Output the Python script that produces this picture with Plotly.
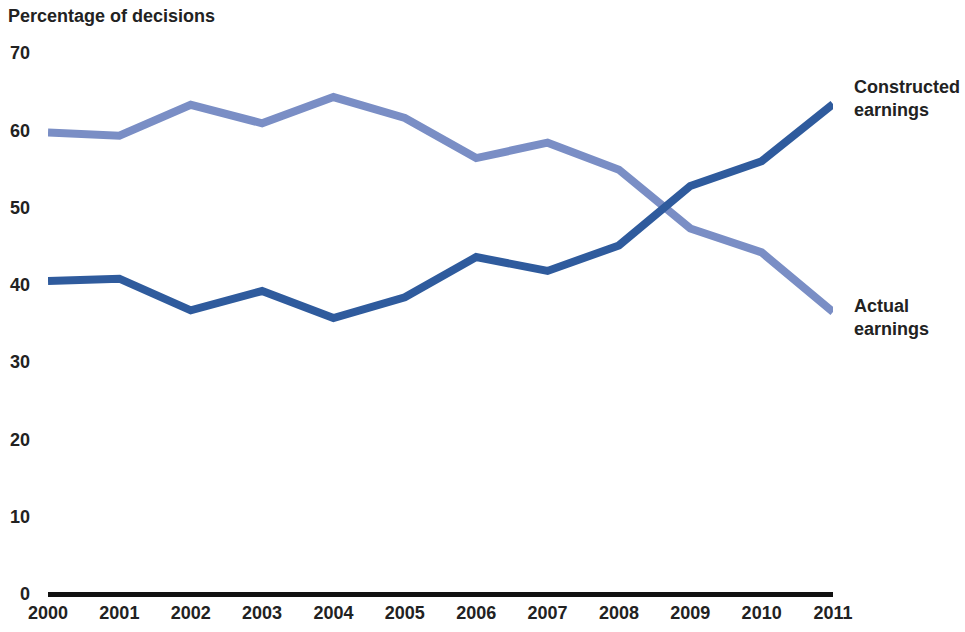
import plotly.graph_objects as go

years = [2000, 2001, 2002, 2003, 2004, 2005, 2006, 2007, 2008, 2009, 2010, 2011]
actual = [59.7, 59.3, 63.3, 60.9, 64.3, 61.6, 56.4, 58.4, 54.9, 47.3, 44.2, 36.5]
constructed = [40.5, 40.8, 36.7, 39.2, 35.7, 38.4, 43.6, 41.8, 45.1, 52.8, 56.0, 63.4]
y_ticks = [0, 10, 20, 30, 40, 50, 60, 70]

FONT = "Liberation Sans, Arial, sans-serif"
TXT = "#222222"
fig = go.Figure()
fig.add_trace(go.Scatter(x=years, y=actual, mode="lines", name="Actual earnings",
                         line=dict(color="#7a8ec5", width=8), cliponaxis=False))
fig.add_trace(go.Scatter(x=years, y=constructed, mode="lines", name="Constructed earnings",
                         line=dict(color="#2f5b9d", width=8), cliponaxis=False))

fig.update_layout(
    width=965, height=632,
    margin=dict(l=48, r=132, t=53, b=38, autoexpand=False),
    paper_bgcolor="white", plot_bgcolor="white",
    showlegend=False,
    font=dict(family=FONT, size=18, color=TXT),
    xaxis=dict(range=[2000, 2011], tickvals=years, ticktext=[str(y) for y in years],
               showgrid=False, zeroline=False, showline=False, automargin=False,
               tickfont=dict(family=FONT, size=18, color=TXT, weight="bold"),
               ticklabelstandoff=6),
    yaxis=dict(range=[0, 70], tickvals=y_ticks, showgrid=False, zeroline=True,
               zerolinecolor="#111111", zerolinewidth=5, showline=False, automargin=False,
               tickfont=dict(family=FONT, size=18, color=TXT, weight="bold"),
               ticklabelstandoff=17),
    annotations=[
        dict(text="<b>Percentage of decisions</b>", xref="paper", yref="paper",
             x=-42/785, y=1 + 37/541, xanchor="left", yanchor="middle",
             showarrow=False, font=dict(family=FONT, size=18, color=TXT)),
        dict(text="<b>Constructed<br>earnings</b>", xref="paper", yref="y",
             x=1 + 19/785, y=constructed[-1] + 0.7, xanchor="left", yanchor="middle",
             align="left", showarrow=False, font=dict(family=FONT, size=18, color=TXT)),
        dict(text="<b>Actual<br>earnings</b>", xref="paper", yref="y",
             x=1 + 19/785, y=actual[-1] - 0.7, xanchor="left", yanchor="middle",
             align="left", showarrow=False, font=dict(family=FONT, size=18, color=TXT)),
    ],
)
fig.write_html("out.html")
